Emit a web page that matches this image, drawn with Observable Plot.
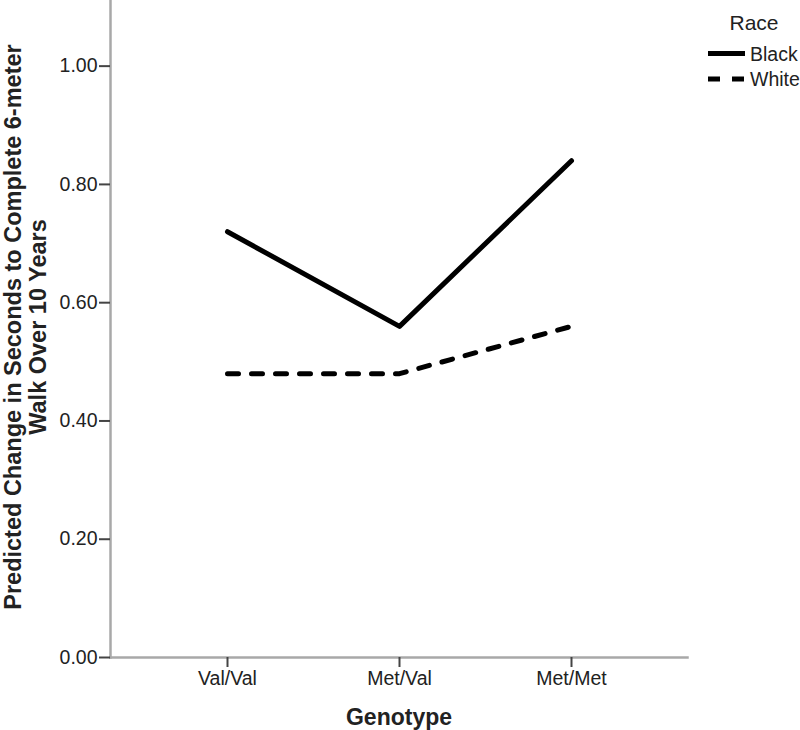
<!DOCTYPE html>
<html>
<head>
<meta charset="utf-8">
<script src="https://cdn.jsdelivr.net/npm/d3@7"></script>
<script src="https://cdn.jsdelivr.net/npm/@observablehq/plot@0.6"></script>
<style>
  html, body { margin: 0; padding: 0; background: #fff; }
  #chart { width: 800px; height: 730px; }
</style>
</head>
<body>
<div id="chart"></div>
<script>
const genotypes = ["Val/Val", "Met/Val", "Met/Met"];
const races = ["Black", "White"];
const blackValues = [0.72, 0.56, 0.84];
const whiteValues = [0.48, 0.48, 0.56];
const yTicks = [0, 0.2, 0.4, 0.6, 0.8, 1.0];

const blackData = genotypes.map((g, i) => ({genotype: g, race: "Black", value: blackValues[i]}));
const whiteData = genotypes.map((g, i) => ({genotype: g, race: "White", value: whiteValues[i]}));

const font = "'Liberation Sans', Arial, sans-serif";
const axisGray = "#a8a8a8";
const textColor = "#222";

const chart = Plot.plot({
  width: 800,
  height: 730,
  marginLeft: 110,
  marginRight: 113,
  marginTop: 0,
  marginBottom: 73,
  style: {fontFamily: font, fontSize: "19.5px", color: textColor, background: "#fff", overflow: "visible"},
  x: {type: "point", domain: genotypes, padding: 0.668, label: null},
  y: {domain: [0, 1.111], label: null},
  marks: [
    Plot.frame({anchor: "left", stroke: axisGray, strokeWidth: 2.5}),
    Plot.frame({anchor: "bottom", stroke: axisGray, strokeWidth: 2.5}),
    Plot.axisY({ticks: yTicks, tickFormat: d3.format(".2f"), tickSize: 11, tickPadding: 2,
      stroke: "#444", strokeWidth: 2, fontSize: 19.5, fill: textColor, label: null}),
    Plot.axisX({tickSize: 10, tickPadding: 4, stroke: "#444", strokeWidth: 2, fontSize: 19.5,
      fill: textColor, label: null}),
    Plot.lineY(blackData, {x: "genotype", y: "value", stroke: "#000", strokeWidth: 5}),
    Plot.lineY(whiteData, {x: "genotype", y: "value", stroke: "#000", strokeWidth: 5, strokeDasharray: "11,13"}),
    Plot.text(["Genotype"], {frameAnchor: "bottom", lineAnchor: "top", dy: 51, fontSize: 23,
      fontWeight: "bold", fill: textColor}),
    Plot.text(["Predicted Change in Seconds to Complete 6-meter\nWalk Over 10 Years"], {
      frameAnchor: "left", rotate: -90, lineAnchor: "top", textAnchor: "middle", dx: -107, dy: -2,
      lineHeight: 1.07, fontSize: 23.5, fontWeight: "bold", fill: textColor})
  ]
});

// Legend (Race)
const svg = d3.select(chart);
const lg = svg.append("g").attr("font-family", font).attr("fill", textColor);
lg.append("text").attr("x", 754).attr("y", 30).attr("text-anchor", "middle")
  .attr("font-size", 21).text("Race");
const legendRows = [
  {race: races[0], dash: null, y: 53.5},
  {race: races[1], dash: "12,12", y: 79}
];
legendRows.forEach(r => {
  lg.append("line").attr("x1", 708).attr("x2", 745).attr("y1", r.y).attr("y2", r.y)
    .attr("stroke", "#000").attr("stroke-width", 5).attr("stroke-dasharray", r.dash);
  lg.append("text").attr("x", 750).attr("y", r.y).attr("dy", "0.36em")
    .attr("text-anchor", "start").attr("font-size", 19.5).text(r.race);
});

document.getElementById("chart").appendChild(chart);
</script>
</body>
</html>
